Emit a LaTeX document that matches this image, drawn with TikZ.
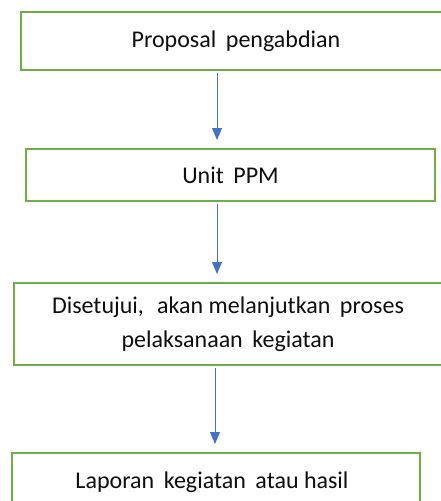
\documentclass[tikz,border=0pt]{standalone}
\usepackage{fontspec}
\setmainfont{Carlito}
\usetikzlibrary{arrows.meta}
\definecolor{boxgreen}{RGB}{112,173,71}
\definecolor{arrowblue}{RGB}{68,114,196}
\definecolor{txt}{RGB}{15,15,15}
\newcommand{\dsp}{\hspace{0.4em}}
\begin{document}
\begin{tikzpicture}[x=1pt,y=-1pt,
  flowbox/.style={draw=boxgreen,line width=2pt,fill=white,rectangle,inner sep=0pt,
    text=txt,align=center,font=\fontsize{24}{34}\selectfont},
  flowarrow/.style={draw=arrowblue,line width=1pt,-{Triangle[length=12pt,width=10pt]},
    shorten >=8pt,shorten <=2pt}]
\useasboundingbox (0,0) rectangle (441,501);
\node[flowbox,minimum width=430pt,minimum height=58pt] (b1) at (236,41) {Proposal\dsp pengabdian};
\node[flowbox,minimum width=409pt,minimum height=52pt] (b2) at (230.5,175) {Unit\dsp PPM};
\node[flowbox,minimum width=428pt,minimum height=82pt] (b3) at (228,324) {Disetujui,\hspace{0.55em}akan melanjutkan\dsp proses\\pelaksanaan\dsp kegiatan};
\node[flowbox,minimum width=408pt,minimum height=80pt,anchor=north] (b4) at (216,452) {};
\node[text=txt,font=\fontsize{24}{34}\selectfont,anchor=base] (t4) at (212,488) {Laporan\dsp kegiatan\dsp atau hasil};
\coordinate (c1) at (217,0);
\coordinate (c2) at (217,0);
\coordinate (c3) at (215,0);
\draw[flowarrow] (b1.south -| c1) -- (b2.north -| c1);
\draw[flowarrow] (b2.south -| c2) -- (b3.north -| c2);
\draw[flowarrow] (b3.south -| c3) -- (b4.north -| c3);
\end{tikzpicture}
\end{document}
